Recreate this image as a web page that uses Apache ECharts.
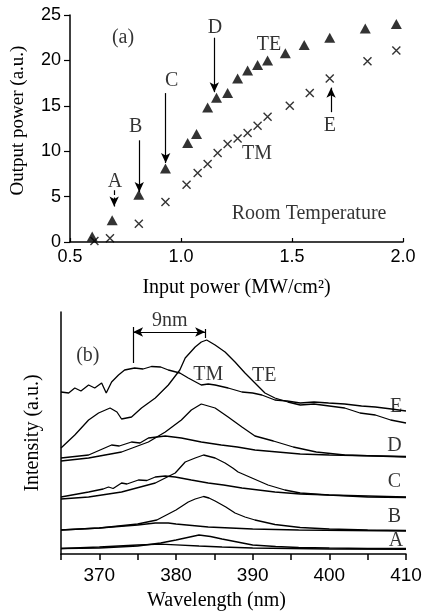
<!DOCTYPE html>
<html><head><meta charset="utf-8">
<script src="https://cdn.jsdelivr.net/npm/echarts@6/dist/echarts.min.js"></script>
<style>html,body{margin:0;padding:0;background:#fff}#c{width:424px;height:614px}</style>
</head><body><div id="c"></div>
<script>
// ---- Panel (a): output vs input power ----
const teInput  = [0.60,0.69,0.81,0.93,1.03,1.07,1.12,1.16,1.21,1.255,1.30,1.345,1.39,1.47,1.555,1.67,1.83,1.97];
const teOutput = [0.6,2.4,5.2,8.1,10.9,11.9,14.8,15.9,16.4,18.0,18.9,19.5,20.0,20.8,21.7,22.5,23.5,24.0];
const tmInput  = [0.61,0.68,0.81,0.93,1.025,1.075,1.12,1.165,1.21,1.255,1.30,1.345,1.39,1.49,1.58,1.67,1.84,1.97];
const tmOutput = [0.1,0.4,2.0,4.4,6.3,7.6,8.6,9.8,10.8,11.4,12.0,12.8,13.8,15.0,16.4,18.0,19.9,21.1];

// annotation labels for panel (a): [x, y, text]
const labelsA = [[0.739,22.5,'(a)'],[1.153,23.6,'D'],[1.396,21.7,'TE'],[0.958,17.8,'C'],[0.796,12.7,'B'],[0.703,6.6,'A'],[1.342,9.7,'TM'],[1.671,12.8,'E'],[1.577,3.1,'Room Temperature']];
// arrows for panel (a): [x, yFrom, yTo, dashed]
const arrowsA = [[1.150,22.5,16.5,false],[0.931,16.4,8.7,false],[0.812,11.2,5.5,false],[0.699,5.7,3.9,true],[1.676,14.3,17.0,false]];

// ---- Panel (b): spectra [wavelength nm, intensity a.u. (offset)] ----
const specA_TE = [[365,5.5],[370,6],[375,8],[378,11],[380,14],[381.5,16.5],[383,19],[384.5,17.5],[386,15],[388,12],[390,9],[393,7.5],[396,6.5],[400,6],[405,5.5],[410,5.5]];
const specA_TM = [[365,5.5],[370,7],[375,9],[378,9.8],[380,9.2],[383,8],[386,7],[390,6],[400,5],[410,4.7]];
const specB_TE = [[365,24],[370,26],[375,30],[377.5,34],[380,44],[381.6,52],[382.5,55],[383.6,57.5],[384.3,56],[385.1,53],[386.5,47],[387.7,41],[389,37],[390.3,34],[392.9,29.5],[396.2,26.5],[400,25],[405,24],[410,23.5]];
const specB_TM = [[365,24],[370,26],[375,29],[377.3,31],[379,31],[380,30],[384.2,27],[390,25],[396,24],[410,23]];
const specC_TE = [[365,55],[368.6,57],[372.9,62],[377.3,71],[379.9,81],[381.2,92],[382.5,96],[383.6,99],[385.1,96],[386.4,91],[387.4,86],[388.1,82],[389.9,76],[392,69],[394.2,64],[396.2,61],[399.9,59],[405,57],[410,56.5]];
const specC_TM = [[365,57],[368.6,62],[370.5,65],[371.2,67],[371.8,65.5],[372.9,71],[373.6,70],[375.1,74],[376.2,73.5],[377.3,77],[378.6,78],[379.9,77],[382,74],[384.2,71],[386.2,69],[388.6,66],[392.9,62],[396.2,60],[400,59],[410,57]];
const specD_TE = [[365,93],[368.6,96],[372.9,102],[376.4,112],[378.6,122],[380.7,134],[382,144],[383.3,150],[385.1,146],[386.8,137],[388.6,127],[390.3,118],[392.7,113],[395.3,107],[398.3,102],[402,99],[406,98],[410,97]];
const specD_TM = [[365,96],[368.6,99],[371.6,109],[372.6,108],[374.2,112],[375.3,111],[376.4,116],[378.6,118],[380.7,116],[383.3,112],[385.9,109],[388,107],[390.3,104],[396.2,100],[400,99],[410,97.5]];
const specE_TE = [[365,106],[366.8,119],[368.6,134],[369.9,141],[371.4,146],[372.3,142],[372.9,135],[374.2,137],[375.5,146],[377.3,156],[379,169],[380.5,184],[381.2,196],[382.5,207],[383.3,212],[384,214],[385.1,209],[386.4,202],[387.7,192],[389,181],[390.3,171],[391.6,161],[392.9,156],[394.6,152],[396.2,149],[398,150],[400,148],[402,146],[404,141],[406,139],[408,134],[410,131]];
const specE_TM = [[365,162],[366,161],[366.8,166],[367.6,163],[368.6,169],[369.4,166],[370.3,171],[370.9,161],[371.6,172],[372.5,179],[373.3,184],[374.6,186],[375.7,185],[376.8,187.5],[378,187],[379,184],[380.5,181],[381.6,176],[383.3,169],[384.2,170],[385.1,169],[386.8,166],[388.6,162],[390,161],[391.2,159],[392.9,154],[394.5,153],[396.2,151],[398,152],[399.9,151],[402,150],[404.2,148],[406,147],[408.1,145],[410,143]];

// annotation labels for panel (b)
const labelsB = [[368.5,198,'(b)'],[379.2,233,'9nm'],[384.2,179,'TM'],[391.5,178,'TE'],[408.7,147,'E'],[408.5,108,'D'],[408.5,72,'C'],[408.5,37,'B'],[408.7,13,'A']];
// 9 nm separation marker
const sepLeft = 374.4, sepRight = 383.8, sepLevel = 222;
const sepLeftSpan = [191, 227], sepRightSpan = [216, 225];

const SERIF = 'Liberation Serif';
const SANS = 'Liberation Sans';
const black = '#000';

function zip(a, b) { return a.map((v, i) => [v, b[i]]); }
function lineSeries(name, data) {
  return { name, type: 'line', xAxisIndex: 1, yAxisIndex: 1, data, showSymbol: false, symbol: 'none',
    lineStyle: { color: black, width: 1.3 }, silent: true, animation: false, z: 3 };
}
function textSeries(xi, list) {
  return { type: 'scatter', xAxisIndex: xi, yAxisIndex: xi, symbolSize: 0, silent: true, animation: false,
    data: list.map(d => ({ value: [d[0], d[1]], name: d[2] })),
    label: { show: true, position: 'inside', formatter: p => p.name, color: black, fontFamily: SERIF, fontSize: 20 } };
}

const chart = echarts.init(document.getElementById('c'), null, { renderer: 'canvas' });
const axisLine = { show: true, lineStyle: { color: black, width: 1.5 } };
chart.setOption({
  backgroundColor: '#fff',
  animation: false,
  grid: [
    { left: 70, right: 21, top: 15, bottom: 372, outerBoundsMode: 'none', containLabel: false },
    { left: 61, right: 18, top: 312, bottom: 60, outerBoundsMode: 'none', containLabel: false }
  ],
  xAxis: [
    { gridIndex: 0, type: 'value', min: 0.5, max: 2.0, interval: 0.5,
      axisLine, axisTick: { show: true, inside: true, length: 4, lineStyle: { color: black, width: 1.2 } },
      axisLabel: { formatter: v => v.toFixed(1), color: black, fontFamily: SANS, fontSize: 18, margin: 6 },
      splitLine: { show: false },
      name: 'Input power (MW/cm²)', nameLocation: 'middle', nameGap: 36,
      nameTextStyle: { color: black, fontFamily: SERIF, fontSize: 20 } },
    { gridIndex: 1, type: 'value', min: 365, max: 410, interval: 5,
      axisLine, axisTick: { show: true, inside: false, length: 6, lineStyle: { color: black, width: 1.5 } },
      axisLabel: { formatter: v => (v % 10 === 0 ? String(v) : ''), color: black, fontFamily: SANS, fontSize: 19, margin: 12 },
      splitLine: { show: false },
      name: 'Wavelength (nm)', nameLocation: 'middle', nameGap: 37,
      nameTextStyle: { color: black, fontFamily: SERIF, fontSize: 20, padding: [0, 34, 0, 0] } }
  ],
  yAxis: [
    { gridIndex: 0, type: 'value', min: 0, max: 25, interval: 5,
      axisLine, axisTick: { show: true, inside: false, length: 6, lineStyle: { color: black, width: 1.2 } },
      axisLabel: { color: black, fontFamily: SANS, fontSize: 18, margin: 9 },
      splitLine: { show: false },
      name: 'Output power (a.u.)', nameLocation: 'middle', nameGap: 42,
      nameTextStyle: { color: black, fontFamily: SERIF, fontSize: 19, padding: [0, 0, 0, 16] } },
    { gridIndex: 1, type: 'value', min: 0, max: 242,
      axisLine, axisTick: { show: false }, axisLabel: { show: false }, splitLine: { show: false },
      name: 'Intensity (a.u.)', nameLocation: 'middle', nameGap: 18,
      nameTextStyle: { color: black, fontFamily: SERIF, fontSize: 20 } }
  ],
  series: [
    { name: 'TE', type: 'scatter', xAxisIndex: 0, yAxisIndex: 0, data: zip(teInput, teOutput),
      symbol: 'triangle', symbolSize: [11, 10], itemStyle: { color: black }, z: 4 },
    { name: 'TM', type: 'scatter', xAxisIndex: 0, yAxisIndex: 0, data: zip(tmInput, tmOutput),
      symbol: 'path://M0,0L10,10M10,0L0,10', symbolSize: 8,
      itemStyle: { color: 'rgba(0,0,0,0)', borderColor: black, borderWidth: 1.4 }, z: 4 },
    Object.assign(textSeries(0, labelsA), {
      markLine: { silent: true, animation: false, symbol: ['none', 'arrow'], symbolSize: [7, 10],
        label: { show: false },
        data: arrowsA.map(a => [
          { coord: [a[0], a[1]], lineStyle: { color: black, width: 1.2, type: a[3] ? 'dashed' : 'solid' } },
          { coord: [a[0], a[2]] }
        ]) }
    }),
    lineSeries('A TE', specA_TE), lineSeries('A TM', specA_TM),
    lineSeries('B TE', specB_TE), lineSeries('B TM', specB_TM),
    lineSeries('C TE', specC_TE), lineSeries('C TM', specC_TM),
    lineSeries('D TE', specD_TE), lineSeries('D TM', specD_TM),
    lineSeries('E TE', specE_TE), lineSeries('E TM', specE_TM),
    Object.assign(textSeries(1, labelsB), {
      markLine: { silent: true, animation: false, symbolSize: [7, 10], label: { show: false },
        lineStyle: { color: black, width: 1.2, type: 'solid' },
        data: [
          [{ coord: [sepLeft, sepLevel], symbol: 'arrow' }, { coord: [sepRight, sepLevel], symbol: 'arrow' }],
          [{ coord: [sepLeft, sepLeftSpan[0]], symbol: 'none' }, { coord: [sepLeft, sepLeftSpan[1]], symbol: 'none' }],
          [{ coord: [sepRight, sepRightSpan[0]], symbol: 'none' }, { coord: [sepRight, sepRightSpan[1]], symbol: 'none' }]
        ] }
    })
  ]
});
</script>
</body></html>
